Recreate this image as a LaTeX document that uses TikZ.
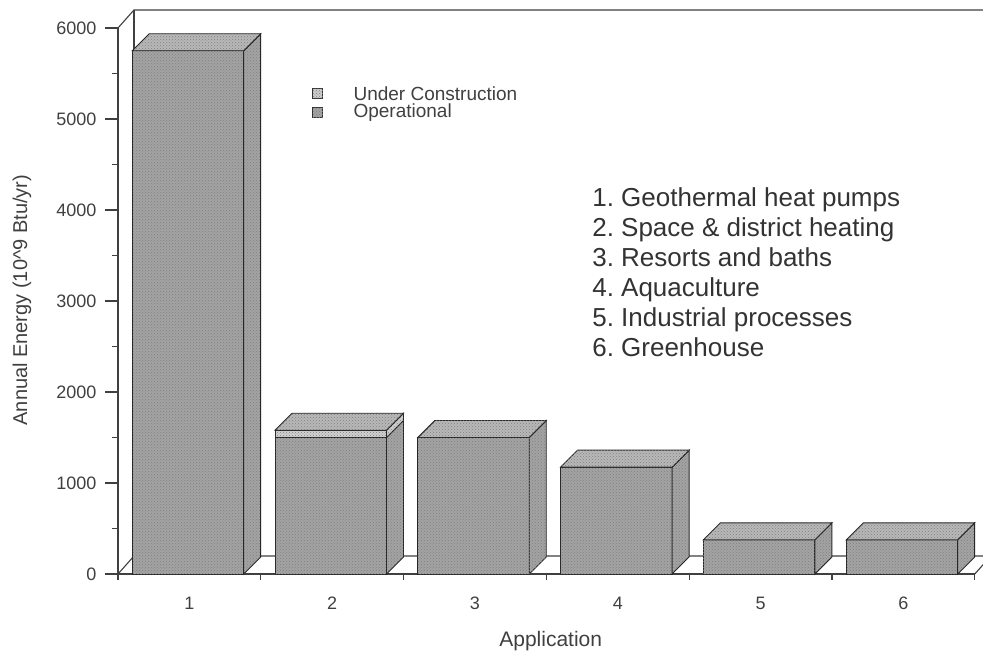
\documentclass[tikz,border=0pt]{standalone}
\usepackage{fontspec}
\setmainfont{Liberation Sans}
\usetikzlibrary{positioning,patterns}

\tikzset{
  axisline/.style={black!75, line width=1.1pt},
  face/.style={draw=black!85, line width=0.9pt, fill=black!36,
    postaction={pattern=crosshatch dots, pattern color=black!50}},
  slabface/.style={face, fill=black!18},
  legendbox/.style={draw=black!80, line width=0.9pt, minimum size=10pt, inner sep=0pt,
    postaction={pattern=crosshatch dots, pattern color=black!50}},
  ticklabel/.style={text=black!75, inner sep=0pt, font=\fontsize{18}{18}\selectfont},
  itemtext/.style={text=black!80, inner sep=0pt, anchor=base west, font=\fontsize{26}{26}\selectfont},
}

\begin{document}
\begin{tikzpicture}[x=142.8pt, y=0.091pt]
  \path[use as bounding box, fill=white] (-118pt,-82pt) rectangle (865pt,574pt);
  %стенка и пол
  \draw[axisline] (0,6000) -- ++(16pt,18pt) -- ++(860pt,0pt);
  \draw[axisline] (0,6000) ++(16pt,18pt) -- ++(0pt,-546pt);
  \draw[axisline] (0,0) -- ++(16pt,18pt) -- ++(860pt,0pt);
  \draw[axisline] (6,0) -- ++(16pt,18pt);
  %оси
  \draw[axisline] (0,-50) -- (0,6000);
  \draw[axisline] (0,0) -- (6,0);
  \foreach \v in {0,1000,...,6000}
    \draw[axisline] (0,\v) -- ++(-13pt,0pt) node[ticklabel, anchor=east, xshift=-8pt] (y\v) {\v};
  \foreach \v in {500,1500,...,5500}
    \draw[axisline] (0,\v) -- ++(-6pt,0pt);
  \foreach \k in {0,...,6}
    \draw[axisline] (\k,0) -- ++(0pt,-6pt);
  \foreach \k in {1,...,6}
    \node[ticklabel, yshift=-29pt] (x\k) at (\k-0.5,0) {\k};
  \node[ticklabel, font=\fontsize{21}{21}\selectfont, yshift=-67pt] (xlab) at (3.03,0) {Application};
  \node[ticklabel, font=\fontsize{20}{20}\selectfont, xshift=-96pt, rotate=90] (ylab) at (0,3010)
    {Annual Energy (10\textasciicircum9 Btu/yr)};
  %столбцы
  \foreach \k/\v/\u in {1/5750/5750, 2/1500/1580, 3/1500/1500, 4/1175/1175, 5/375/375, 6/375/375} {
    \draw[face] (\k-0.9,0) rectangle (\k-0.12,\v);
    \draw[face] (\k-0.12,0) -- ++(17pt,17pt) -- ++(0,\v) -- (\k-0.12,\v) -- cycle;
    \draw[slabface] (\k-0.9,\v) rectangle (\k-0.12,\u);
    \draw[slabface] (\k-0.12,\v) -- ++(17pt,17pt) -- ++(0,\u-\v) -- (\k-0.12,\u) -- cycle;
    \draw[face, fill=black!28] (\k-0.9,\u) -- ++(17pt,17pt) -- ++(0.78,0) -- (\k-0.12,\u) -- cycle;
  }
  %легенда
  \node[legendbox, fill=black!20] (uc) at (1.4,5280) {};
  \node[legendbox, fill=black!36] (op) at (1.4,5070) {};
  \node[ticklabel, font=\fontsize{19}{19}\selectfont, right=30pt of uc] (uctext) {Under Construction};
  \node[ticklabel, font=\fontsize{19}{19}\selectfont, right=30pt of op] (optext) {Operational};
  %список
  \foreach \t [count=\i] in {Geothermal heat pumps, Space \& district heating, Resorts and baths,
      Aquaculture, Industrial processes, Greenhouse}
    \node[itemtext] (item\i) at (3.32,4035-330*\i+330) {\i.\ \t};
\end{tikzpicture}
\end{document}
